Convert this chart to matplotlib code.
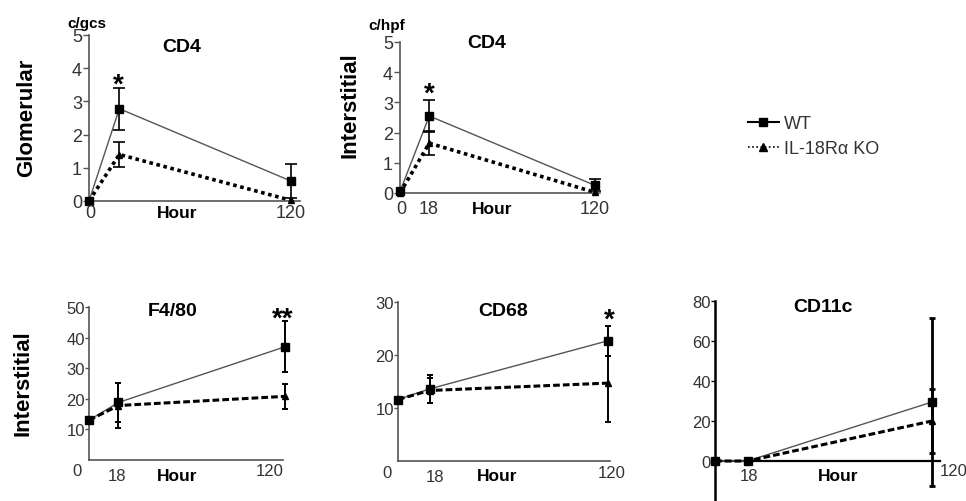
import matplotlib
matplotlib.use('Agg')
import matplotlib.pyplot as plt
from matplotlib.lines import Line2D
import numpy as np

plt.rcParams['font.family'] = ['Liberation Sans', 'DejaVu Sans']

W, H = 966, 502

hours = [0, 18, 120]

# glomerular CD4 (c/gcs)
glom_cd4_wt = [0.0, 2.78, 0.60]
glom_cd4_wt_err = [0, 0.63, 0.50]
glom_cd4_ko = [0.0, 1.40, 0.02]
glom_cd4_ko_err = [0, 0.38, 0]

# interstitial CD4 (c/hpf)
int_cd4_wt = [0.05, 2.55, 0.25]
int_cd4_wt_err = [0, 0.52, 0.20]
int_cd4_ko = [0.0, 1.65, 0.02]
int_cd4_ko_err = [0, 0.40, 0]

# interstitial F4/80
f480_wt = [13.0, 18.8, 37.0]
f480_wt_err = [0, 6.5, 8.3]
f480_ko = [13.0, 17.8, 20.8]
f480_ko_err = [0, 7.3, 4.2]

# interstitial CD68
cd68_wt = [11.6, 13.6, 22.7]
cd68_wt_err = [0, 2.6, 2.8]
cd68_ko = [11.6, 13.3, 14.7]
cd68_ko_err = [0, 2.4, 7.3]

# interstitial CD11c
cd11c_wt = [0.0, 0.0, 29.5]
cd11c_wt_err = [0, 0, 42.0]
cd11c_ko = [0.0, 0.0, 20.0]
cd11c_ko_err = [0, 0, 16.0]

fig = plt.figure(figsize=(W / 100, H / 100), dpi=100)


def px_axes(l, r, t, b):
    return fig.add_axes([l / W, 1 - b / H, (r - l) / W, (b - t) / H])


def ftext(x, y, s, **kw):
    kw.setdefault('ha', 'center')
    kw.setdefault('va', 'center')
    fig.text(x / W, 1 - y / H, s, **kw)


def draw_panel(ax, wt, wt_err, ko, ko_err, ko_ls, ko_lw, cap, elw, ms, lsize):
    ax.plot(hours, wt, color='#555555', lw=1.0, clip_on=False, zorder=3)
    ax.plot(hours, ko, color='black', lw=ko_lw, linestyle=ko_ls, clip_on=False, zorder=3)
    h = np.array(hours)
    for vals, errs in ((wt, wt_err), (ko, ko_err)):
        v = np.array(vals)
        e = np.array(errs)
        m = e > 0
        cont = ax.errorbar(h[m], v[m], yerr=e[m], fmt='none', ecolor='black',
                           elinewidth=elw, capsize=cap, capthick=elw, zorder=4)
        for art in cont.get_children():
            art.set_clip_on(False)
    ax.plot(hours, wt, 's', color='black', ms=ms, clip_on=False, zorder=5)
    ax.plot(hours, ko, '^', color='black', ms=ms - 1, clip_on=False, zorder=5)
    for s in ['top', 'right']:
        ax.spines[s].set_visible(False)
    for s in ['left', 'bottom']:
        ax.spines[s].set_color('#555555')
        ax.spines[s].set_linewidth(1.2)
    ax.set_xticks([])
    ax.tick_params(axis='y', direction='out', length=4, width=1, color='#555555',
                   labelsize=lsize, labelcolor='#333333', pad=1)
    ax.patch.set_alpha(0)


dotted = (0, (1, 1))
dashed = (0, (2.2, 1.0))

# top row
ax1 = px_axes(89, 300, 36, 202)
draw_panel(ax1, glom_cd4_wt, glom_cd4_wt_err, glom_cd4_ko, glom_cd4_ko_err,
           dotted, 2.6, 4.5, 1.2, 5.5, 13)
ax1.set_xlim(0, 125.3)
ax1.set_ylim(0, 5)
ax1.set_yticks([0, 1, 2, 3, 4, 5])

ax2 = px_axes(400, 600, 43, 194)
draw_panel(ax2, int_cd4_wt, int_cd4_wt_err, int_cd4_ko, int_cd4_ko_err,
           dotted, 2.6, 4.0, 1.2, 5.5, 13)
ax2.set_xlim(0, 123)
ax2.set_ylim(0, 5)
ax2.set_yticks([0, 1, 2, 3, 4, 5])

# bottom row
ax4 = px_axes(89, 283, 308, 461)
draw_panel(ax4, f480_wt, f480_wt_err, f480_ko, f480_ko_err,
           dashed, 2.2, 2.5, 1.4, 6, 12)
ax4.set_xlim(0, 118.8)
ax4.set_ylim(0, 50)
ax4.set_yticks([10, 20, 30, 40, 50])
ax4.tick_params(axis='y', length=3, pad=0)

ax5 = px_axes(398, 610, 303, 462)
draw_panel(ax5, cd68_wt, cd68_wt_err, cd68_ko, cd68_ko_err,
           dashed, 2.2, 2.5, 1.4, 6, 12)
ax5.set_xlim(0, 121)
ax5.set_ylim(0, 30)
ax5.set_yticks([10, 20, 30])
ax5.tick_params(axis='y', length=3, pad=0)

ax6 = px_axes(715, 940, 302, 502)
draw_panel(ax6, cd11c_wt, cd11c_wt_err, cd11c_ko, cd11c_ko_err,
           dashed, 2.2, 2.2, 2.0, 6, 12)
ax6.set_xlim(0, 124.4)
ax6.set_ylim(-20, 80)
ax6.set_yticks([0, 20, 40, 60, 80])
ax6.spines['bottom'].set_position(('data', 0))
ax6.spines['left'].set_color('black')
ax6.spines['left'].set_linewidth(1.8)
ax6.spines['bottom'].set_color('black')
ax6.spines['bottom'].set_linewidth(1.6)
ax6.tick_params(axis='y', length=3, pad=0, color='black')

# labels
bold = dict(fontweight='bold', color='black')
ftext(27, 118, 'Glomerular', rotation=90, fontsize=16, **bold)
ftext(350, 105, 'Interstitial', rotation=90, fontsize=16, **bold)
ftext(23, 383, 'Interstitial', rotation=90, fontsize=16, **bold)

ftext(87, 24, 'c/gcs', fontsize=11, **bold)
ftext(387, 26, 'c/hpf', fontsize=11, **bold)

ftext(182, 48, 'CD4', fontsize=14, **bold)
ftext(487, 43, 'CD4', fontsize=14, **bold)
ftext(173, 312, 'F4/80', fontsize=14, **bold)
ftext(503, 312, 'CD68', fontsize=14, **bold)
ftext(823, 308, 'CD11c', fontsize=14, **bold)

ftext(118, 86, '*', fontsize=20, **bold)
ftext(429, 95, '*', fontsize=20, **bold)
ftext(283, 320, '**', fontsize=20, **bold)
ftext(609, 321, '*', fontsize=20, **bold)

ftext(177, 213, 'Hour', fontsize=12.5, **bold)
ftext(492, 210, 'Hour', fontsize=12.5, **bold)
ftext(177, 477, 'Hour', fontsize=12.5, **bold)
ftext(497, 477, 'Hour', fontsize=12.5, **bold)
ftext(838, 477, 'Hour', fontsize=12.5, **bold)

tick = dict(color='#333333')
ftext(90, 213, '0', fontsize=13, **tick)
ftext(291, 213, '120', fontsize=13, **tick)
ftext(401, 210, '0', fontsize=13, **tick)
ftext(429, 210, '18', fontsize=13, **tick)
ftext(595, 210, '120', fontsize=13, **tick)

ftext(77, 472, '0', fontsize=12, **tick)
ftext(117, 477, '18', fontsize=12, **tick)
ftext(270, 472, '120', fontsize=12, **tick)
ftext(387, 473, '0', fontsize=12, **tick)
ftext(435, 478, '18', fontsize=12, **tick)
ftext(612, 473, '120', fontsize=12, **tick)
ftext(749, 477, '18', fontsize=12, **tick)
ftext(940, 472, '120', fontsize=12, ha='left', **tick)

# legend
handles = [
    Line2D([], [], color='black', lw=1.5, marker='s', ms=6),
    Line2D([], [], color='black', lw=1.2, ls=(0, (1, 1.5)), marker='^', ms=6),
]
fig.legend(handles, ['WT', 'IL-18R\u03b1 KO'], loc='upper left',
           bbox_to_anchor=(748 / W, 1 - 116 / H), frameon=False, fontsize=13,
           handlelength=1.7, handletextpad=0.3, labelspacing=0.45,
           borderpad=0, borderaxespad=0, labelcolor='#333333')

fig.savefig('out.png', dpi=100)
